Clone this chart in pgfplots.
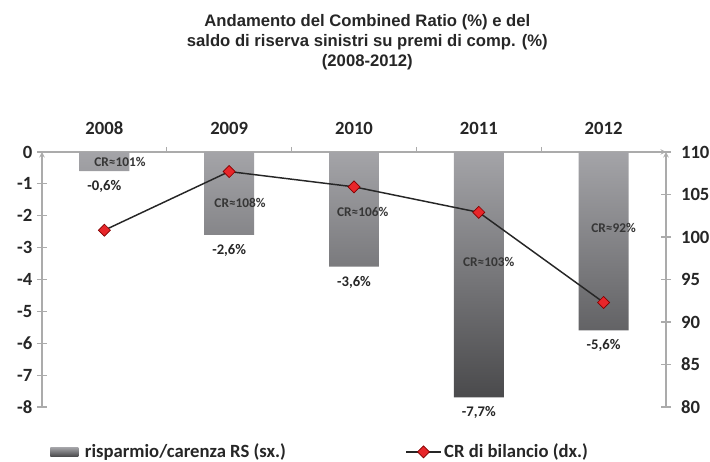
\documentclass[border=0pt]{standalone}
\usepackage{fontspec}
\setmainfont{Carlito}
\newfontfamily\arialfont{Liberation Sans}
\usepackage{pgfplots}
\pgfplotsset{compat=1.18}
\definecolor{axgray}{HTML}{ABABAB}
\definecolor{txt}{HTML}{262626}
\definecolor{crtxt}{HTML}{363636}
\definecolor{bartop}{HTML}{A4A4A8}
\definecolor{barbot}{HTML}{4A4A4C}
\definecolor{mkred}{HTML}{E8262A}
\pgfplotsset{
  common/.style={
    scale only axis, width=468pt, height=191.25pt,
    xmin=-0.5, xmax=4.5,
    every outer x axis line/.append style={-, draw=axgray, line width=0.8pt},
    every outer y axis line/.append style={-, draw=axgray, line width=0.8pt},
    tick style={draw=axgray, line width=0.8pt},
    ticklabel style={font=\bfseries\fontsize{14}{16}\selectfont, text=txt},
    legend style={draw=none, fill=none, inner sep=0pt,
      font=\bfseries\fontsize{14}{16}\selectfont, text=txt},
  },
}
\tikzset{crlab/.style={font=\bfseries\fontsize{10}{12}\selectfont, text=crtxt, inner sep=0pt}}
\begin{document}
\begin{tikzpicture}
\begin{axis}[common, name=ax,
  ymin=-8, ymax=0,
  axis x line=top, axis y line=left,
  xtick={0,...,4}, xticklabels={2008,2009,2010,2011,2012},
  xticklabel style={yshift=2pt},
  major x tick style={draw=none},
  minor xtick={0.5,1.5,2.5,3.5},
  xtick align=outside,
  minor tick length=3.75pt,
  ytick={-8,...,0}, yticklabels={-8,-7,-6,-5,-4,-3,-2,-1,0},
  ytick align=center, major tick length=7.5pt,
  legend style={at={(0.0128,-0.176)}, anchor=west},
]
\addplot[ybar, bar width=0.4, draw=none, top color=bartop, bottom color=barbot,
  point meta=explicit symbolic, nodes near coords,
  nodes near coords style={font=\bfseries\fontsize{11}{13}\selectfont, text=txt, anchor=north, yshift=-3.5pt},
  legend image code/.code={\shade[top color=bartop, bottom color=barbot] (0pt,-3.4pt) rectangle (21pt,3.4pt);}]
coordinates {
  (0,-0.6) [-0,6\%]
  (1,-2.6) [-2,6\%]
  (2,-3.6) [-3,6\%]
  (3,-7.7) [-7,7\%]
  (4,-5.6) [-5,6\%]
};
\addlegendentry{\hspace{3pt}risparmio/carenza RS (sx.)}
\node[crlab] at (axis cs:0.125,-0.31) {CR≈101\%};
\node[crlab] at (axis cs:1.087,-1.6) {CR≈108\%};
\node[crlab] at (axis cs:2.07,-1.88) {CR≈106\%};
\node[crlab] at (axis cs:3.08,-3.45) {CR≈103\%};
\node[crlab] at (axis cs:4.08,-2.38) {CR≈92\%};
\end{axis}
\begin{axis}[common,
  ymin=80, ymax=110,
  axis x line=none, axis y line=right,
  ytick={80,85,...,110}, yticklabels={80,85,90,95,100,105,110},
  yticklabel style={xshift=4pt},
  ytick align=center, major tick length=7.5pt,
  legend style={at={(0.582,-0.176)}, anchor=west},
  legend image code/.code={\draw[mark repeat=2, mark phase=2, #1] plot coordinates {(0pt,0pt) (13pt,0pt) (26pt,0pt)};},
]
\addplot[color=txt, line width=1.1pt, mark=square*, mark size=3.2pt,
  mark options={rotate=45, fill=mkred, draw=red!50!black, line width=0.5pt}]
coordinates {
  (0,100.8)
  (1,107.7)
  (2,105.9)
  (3,102.9)
  (4,92.3)
};
\addlegendentry{CR di bilancio (dx.)}
\end{axis}
\node[font=\arialfont\bfseries\fontsize{12.5}{15}\selectfont, align=center, text=txt]
  at ([xshift=10pt, yshift=82.5pt]ax.north) {Andamento del Combined Ratio (\%) e del\\saldo di riserva sinistri su premi di comp. (\%)\\(2008-2012)};
\pgfresetboundingbox
\path[use as bounding box] ([shift={(-31.5pt,-41.25pt)}]ax.south west) rectangle ([shift={(33pt,114pt)}]ax.north east);
\end{tikzpicture}
\end{document}
